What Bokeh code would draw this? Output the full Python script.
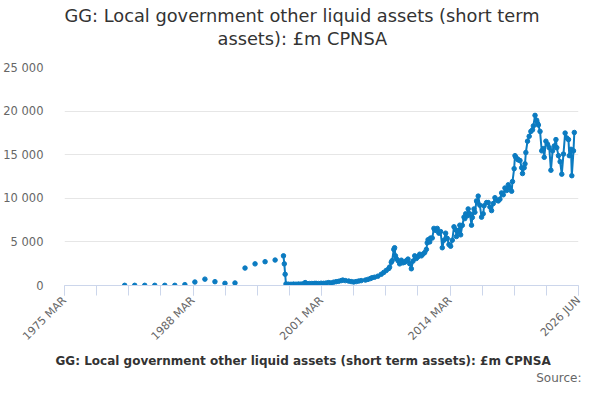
import numpy as np
from bokeh.plotting import figure
from bokeh.models import (Range1d, FixedTicker, CustomJSTickFormatter, Title,
                          ColumnDataSource)
from bokeh.embed import file_html
from bokeh.resources import INLINE

title_line1 = "GG: Local government other liquid assets (short term"
title_line2 = "assets): £m CPNSA"
series_name = "GG: Local government other liquid assets (short term assets): £m CPNSA"
source_text = "Source:"

x_tick_labels = ["1975 MAR", "1988 MAR", "2001 MAR", "2014 MAR", "2026 JUN"]
x_axis_start = "1975-03"
x_axis_end = "2026-06"
y_ticks = [0, 5000, 10000, 15000, 20000, 25000]

annual_dates = ["1981-03", "1982-03", "1983-03", "1984-03", "1985-03", "1986-03",
                "1987-03", "1988-03", "1989-03", "1990-03", "1991-03", "1992-03",
                "1993-03", "1994-03", "1995-03", "1996-03"]
annual_values = [20, 20, 20, 20, 20, 20, 100, 400, 730, 440, 250, 290,
                 2000, 2480, 2730, 2920]

monthly_dates = [
    "1997-01", "1997-02", "1997-03", "1997-04", "1997-07", "1997-10",
    "1998-01", "1998-04", "1998-07", "1998-10", "1999-01", "1999-03",
    "1999-05", "1999-08", "1999-11", "2000-02", "2000-04", "2000-07",
    "2000-10", "2001-01", "2001-04", "2001-07", "2001-10", "2002-01",
    "2002-04", "2002-07", "2002-10", "2002-12", "2003-03", "2003-07",
    "2003-10", "2004-01", "2004-04", "2004-07", "2004-10", "2005-03",
    "2005-06", "2005-09", "2005-11", "2006-02", "2006-06", "2006-10",
    "2007-01", "2007-04", "2007-07", "2007-08", "2007-10", "2007-11",
    "2008-01", "2008-02", "2008-03", "2008-04", "2008-06", "2008-08",
    "2008-10", "2008-12", "2009-02", "2009-04", "2009-06", "2009-08",
    "2009-10", "2009-12", "2010-02", "2010-04", "2010-06", "2010-08",
    "2010-10", "2010-12", "2011-02", "2011-04", "2011-05", "2011-06",
    "2011-08", "2011-09", "2011-11", "2012-01", "2012-02", "2012-04",
    "2012-05", "2012-07", "2012-09", "2012-11", "2013-01", "2013-03",
    "2013-05", "2013-07", "2013-09", "2013-11", "2014-01", "2014-03",
    "2014-04", "2014-06", "2014-08", "2014-09", "2014-11", "2015-01",
    "2015-02", "2015-03", "2015-05", "2015-06", "2015-08", "2015-10",
    "2015-11", "2016-01", "2016-02", "2016-04", "2016-05", "2016-06",
    "2016-08", "2016-10", "2016-12", "2017-01", "2017-04", "2017-06",
    "2017-08", "2017-10", "2017-12", "2018-02", "2018-04", "2018-06",
    "2018-08", "2018-10", "2018-12", "2019-02", "2019-04", "2019-06",
    "2019-08", "2019-10", "2019-11", "2020-01", "2020-02", "2020-03",
    "2020-05", "2020-06", "2020-08", "2020-10", "2020-11", "2021-01",
    "2021-02", "2021-03", "2021-05", "2021-07", "2021-09", "2021-11",
    "2021-12", "2022-02", "2022-04", "2022-05", "2022-06", "2022-08",
    "2022-10", "2022-12", "2023-01", "2023-03", "2023-05", "2023-07",
    "2023-09", "2023-11", "2024-01", "2024-03", "2024-04", "2024-06",
    "2024-08", "2024-10", "2024-12", "2025-02", "2025-04", "2025-06",
    "2025-07", "2025-09", "2025-10", "2025-12", "2026-01",
]
monthly_values = [
    3400, 2480, 1290, 180, 150, 140,
    160, 150, 170, 160, 200, 330,
    200, 220, 230, 240, 250, 230,
    260, 250, 280, 330, 300, 380,
    440, 480, 560, 620, 560, 510,
    450, 400, 450, 510, 560, 620,
    700, 800, 890, 950, 1070, 1290,
    1500, 1730, 1950, 2110, 2670, 2850,
    4140, 4330, 3400, 3100, 2850, 2480,
    2900, 2600, 2670, 2850, 3030, 2500,
    1920, 2800, 3400, 3100, 3300, 3590,
    3400, 3600, 3780, 4140, 4890, 5250,
    5000, 5440, 5440, 6550, 6370, 6300,
    6550, 6000, 6180, 4330, 5200, 6000,
    5400, 4700, 4510, 5200, 6730, 6400,
    5620, 6200, 6920, 5810, 6900, 7840,
    7670, 8220, 8000, 8780, 8220, 6920,
    7800, 8780, 8400, 9700, 9510, 10250,
    9200, 7840, 8220, 9140, 9510, 9510,
    9000, 8590, 9400, 10070, 9800, 9700,
    9900, 10620, 10400, 11180, 10900, 11550,
    11200, 10810, 11920, 13400, 14890, 14700,
    14510, 14400, 14330, 13500, 12840, 13500,
    13950, 15250, 16550, 17110, 17670, 17850,
    18300, 19510, 18950, 18600, 18400, 17670,
    15440, 15700, 14700, 16550, 16200, 15810,
    13220, 15440, 16000, 16730, 15810, 14890,
    14200, 12770, 15070, 17480, 16920, 16730,
    14890, 15620, 12590, 15440, 17550,
]


def to_year(d):
    y, m = d.split("-")
    return int(y) + (int(m) - 1) / 12.0


BLUE = "#0b7bc1"
FONT = "DejaVu Sans"
TITLE_SIZE = "17.8px"

x0 = to_year(x_axis_start)
x1 = to_year(x_axis_end)
all_ticks = list(np.linspace(x0, x1, 17))
label_ticks = all_ticks[::4]

monthly_src = ColumnDataSource(dict(x=[to_year(d) for d in monthly_dates], y=monthly_values))
annual_src = ColumnDataSource(dict(x=[to_year(d) for d in annual_dates], y=annual_values))

p = figure(width=584, height=384, x_range=Range1d(x0, x1), y_range=Range1d(0, 25000),
           output_backend="svg", toolbar_location=None, title=title_line1,
           min_border_left=56, min_border_right=6, min_border_top=67, min_border_bottom=92)

p.title.text_font = FONT
p.title.text_font_size = TITLE_SIZE
p.title.text_font_style = "normal"
p.title.text_color = "#333333"
p.title.align = "left"
p.title.offset = 0
p.title.standoff = 0

spacer = Title(text=" ", text_font=FONT, text_font_size="2px", standoff=15)
p.add_layout(spacer, "above")
t2 = Title(text=title_line2, text_font=FONT, text_font_size=TITLE_SIZE, text_font_style="normal",
           text_color="#333333", align="left", offset=153, standoff=0)
p.add_layout(t2, "above")

p.outline_line_color = None
p.background_fill_color = "white"
p.border_fill_color = "white"

p.xgrid.grid_line_color = None
p.ygrid.grid_line_color = "#e6e6e6"
p.ygrid.ticker = FixedTicker(ticks=y_ticks)

p.yaxis.ticker = FixedTicker(ticks=y_ticks)
p.yaxis.formatter = CustomJSTickFormatter(
    code="return Math.round(tick).toString().replace(/\\B(?=(\\d{3})+(?!\\d))/g, ' ');")
p.yaxis.axis_line_color = None
p.yaxis.major_tick_line_color = None
p.yaxis.minor_tick_line_color = None
p.yaxis.major_label_standoff = 15
p.yaxis.major_label_text_font = FONT
p.yaxis.major_label_text_font_size = "11.5px"
p.yaxis.major_label_text_color = "#666666"

p.xaxis.ticker = FixedTicker(ticks=label_ticks, minor_ticks=all_ticks)
p.xaxis.formatter = CustomJSTickFormatter(args=dict(labels=x_tick_labels),
                                          code="return labels[index];")
p.xaxis.axis_line_color = "#ccd6eb"
p.xaxis.major_tick_line_color = "#ccd6eb"
p.xaxis.minor_tick_line_color = "#ccd6eb"
p.xaxis.major_tick_out = 10
p.xaxis.major_tick_in = 0
p.xaxis.minor_tick_out = 10
p.xaxis.minor_tick_in = 0
p.xaxis.major_label_orientation = np.pi / 4
p.xaxis.major_label_standoff = 3
p.xaxis.major_label_text_font = FONT
p.xaxis.major_label_text_font_size = "11px"
p.xaxis.major_label_text_color = "#666666"

p.line("x", "y", source=monthly_src, line_color=BLUE, line_width=2)
p.scatter("x", "y", source=monthly_src, size=4.5, fill_color=BLUE, line_color=BLUE)
p.scatter("x", "y", source=annual_src, size=4.5, fill_color=BLUE, line_color=BLUE)

legend_title = Title(text=series_name, text_font=FONT, text_font_size="12px",
                     text_font_style="bold", text_color="#333333", align="left",
                     offset=-9, standoff=2)
p.add_layout(legend_title, "below")

src_title = Title(text=source_text, text_font=FONT, text_font_size="12px",
                  text_font_style="normal", text_color="#666666", align="right",
                  offset=-3, standoff=0)
p.add_layout(src_title, "below")

open("out.html", "w").write(file_html(p, INLINE))
